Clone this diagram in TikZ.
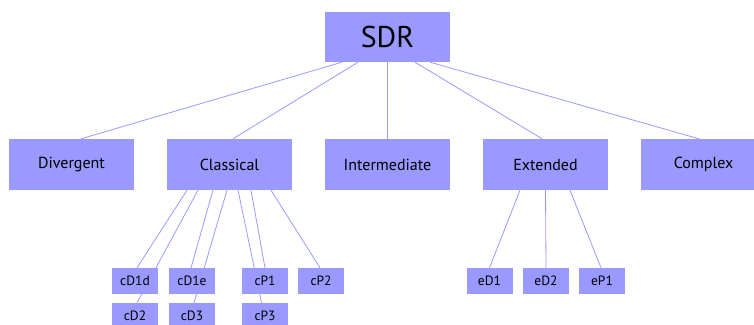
\documentclass[tikz,border=0pt]{standalone}
\usepackage{fontspec}
\setmainfont{PT Sans}
\usetikzlibrary{backgrounds}
\definecolor{boxc}{HTML}{9999FF}
\tikzset{
  box/.style={fill=boxc, draw=none, inner sep=0pt, text=black},
  top/.style={box, minimum width=125pt, minimum height=50pt, font=\fontsize{30}{32}\selectfont},
  mid/.style={box, minimum width=125pt, minimum height=51pt, font=\fontsize{16}{18}\selectfont},
  leaf/.style={box, minimum width=46pt, minimum height=26pt, font=\fontsize{13.5}{16}\selectfont},
  edge/.style={draw=boxc, line width=0.8pt}
}
\begin{document}
\begin{tikzpicture}[x=1pt,y=-1pt]
\useasboundingbox (0,0) rectangle (754,324);
\begin{scope}
\clip (0,0) rectangle (754,324);
\node[top] (sdr) at (387.5,37) {SDR};
\node[mid] (div) at (71.5,164.5) {Divergent};
\node[mid] (cla) at (229.5,164.5) {Classical};
\node[mid] (int) at (387.5,164.5) {Intermediate};
\node[mid] (ext) at (545.5,164.5) {Extended};
\node[mid] (com) at (703.5,164.5) {Complex};
\node[leaf] (cD1d) at (135,281) {cD1d};
\node[leaf] (cD2) at (135,316) {cD2};
\node[leaf] (cD1e) at (192,281) {cD1e};
\node[leaf] (cD3) at (192,316) {cD3};
\node[leaf] (cP1) at (265,281) {cP1};
\node[leaf] (cP3) at (265,316) {cP3};
\node[leaf] (cP2) at (321,281) {cP2};
\node[leaf] (eD1) at (489.5,281) {eD1};
\node[leaf] (eD2) at (546,281) {eD2};
\node[leaf] (eP1) at (602,281) {eP1};
\begin{scope}[on background layer]
\draw[edge] ([xshift=-45.5pt]sdr.south) -- ([xshift=9.5pt]div.north);
\draw[edge] ([xshift=-29.5pt]sdr.south) -- ([xshift=3.5pt]cla.north);
\draw[edge] (sdr.south) -- (int.north);
\draw[edge] ([xshift=27.5pt]sdr.south) -- ([xshift=-3.5pt]ext.north);
\draw[edge] ([xshift=42.5pt]sdr.south) -- ([xshift=-4.5pt]com.north);
\draw[edge] ([xshift=-42.5pt]cla.south) -- ([xshift=2pt]cD1d.north);
\draw[edge] ([xshift=-31.5pt]cla.south) -- ([xshift=2pt]cD2.north);
\draw[edge] ([xshift=-16.5pt]cla.south) -- ([xshift=-1pt]cD1e.north);
\draw[edge] ([xshift=-2.5pt]cla.south) -- ([xshift=2pt]cD3.north);
\draw[edge] ([xshift=8.5pt]cla.south) -- ([xshift=-3.5pt]cP3.north);
\draw[edge] ([xshift=21.5pt]cla.south) -- (cP1.north);
\draw[edge] ([xshift=41.5pt]cla.south) -- ([xshift=-1pt]cP2.north);
\draw[edge] ([xshift=-25.5pt]ext.south) -- (eD1.north);
\draw[edge] (ext.south) -- (eD2.north);
\draw[edge] ([xshift=24.5pt]ext.south) -- ([xshift=-1pt]eP1.north);
\end{scope}
\end{scope}
\end{tikzpicture}
\end{document}
